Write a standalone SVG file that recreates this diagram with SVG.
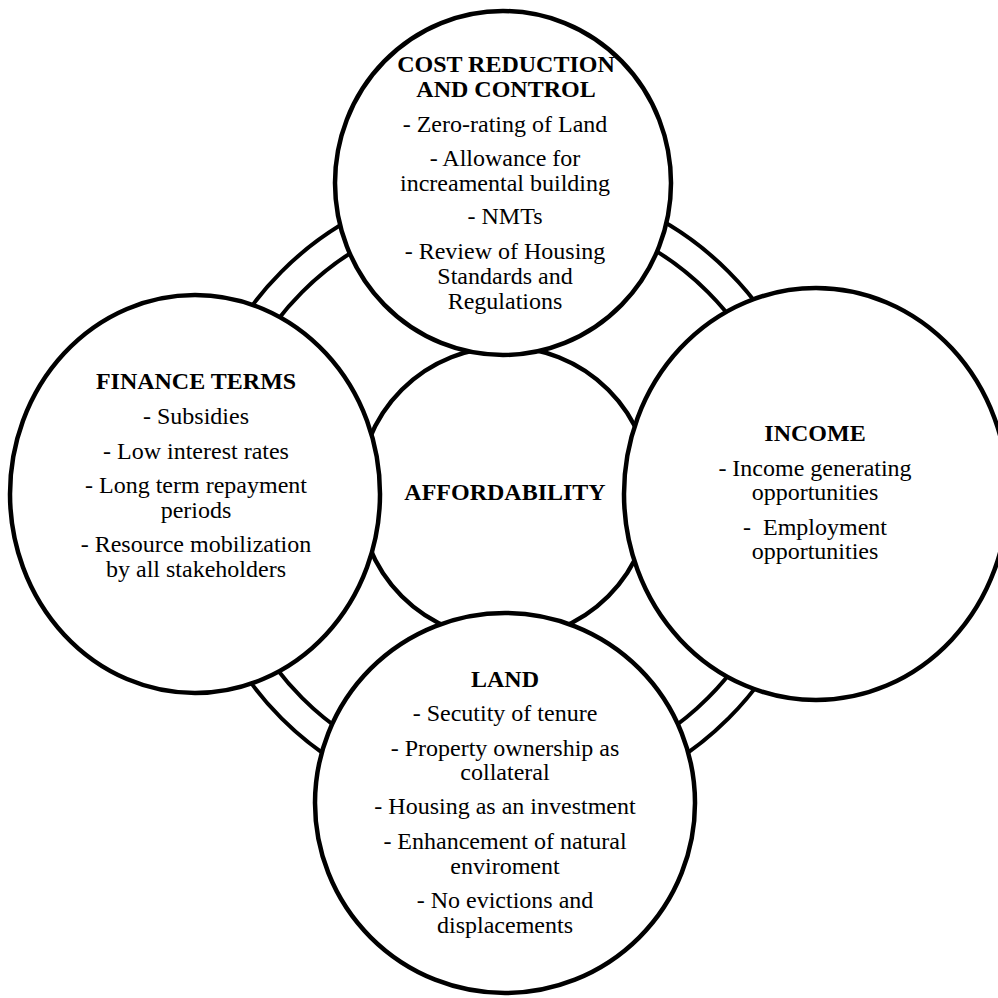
<svg xmlns="http://www.w3.org/2000/svg" width="998" height="998" viewBox="0 0 998 998">
<style>
.node { fill: #ffffff; stroke: #000000; stroke-width: 4.5; }
.ring { fill: none; stroke: #000000; stroke-width: 4; }
text { font-family: "Liberation Serif", "Times New Roman", serif; font-size: 24px; fill: #000000; text-anchor: middle; }
.title { font-weight: bold; }
</style>
<rect x="0" y="0" width="998" height="998" fill="#ffffff"/>
<g id="connectors">
  <circle class="ring" cx="505" cy="495" r="316"/>
  <circle class="ring" cx="505" cy="495" r="287"/>
</g>
<g id="affordability">
  <circle class="node" cx="505" cy="493" r="146"/>
  <text class="title" x="505" y="500">AFFORDABILITY</text>
</g>
<g id="cost-reduction">
  <ellipse class="node" cx="503" cy="183" rx="168" ry="172"/>
  <text class="title" x="506" y="72">COST REDUCTION</text>
  <text class="title" x="506" y="97">AND CONTROL</text>
  <text x="505" y="132">- Zero-rating of Land</text>
  <text x="505" y="166">- Allowance for</text>
  <text x="505" y="191">increamental building</text>
  <text x="505" y="224">- NMTs</text>
  <text x="505" y="259">- Review of Housing</text>
  <text x="505" y="284">Standards and</text>
  <text x="505" y="309">Regulations</text>
</g>
<g id="finance-terms">
  <ellipse class="node" cx="195" cy="494" rx="185" ry="199"/>
  <text class="title" x="196" y="389">FINANCE TERMS</text>
  <text x="196" y="424">- Subsidies</text>
  <text x="196" y="459">- Low interest rates</text>
  <text x="196" y="493">- Long term repayment</text>
  <text x="196" y="518">periods</text>
  <text x="196" y="552">- Resource mobilization</text>
  <text x="196" y="577">by all stakeholders</text>
</g>
<g id="income">
  <ellipse class="node" cx="816" cy="494" rx="192" ry="206"/>
  <text class="title" x="815" y="441">INCOME</text>
  <text x="815" y="476">- Income generating</text>
  <text x="815" y="500">opportunities</text>
  <text x="815" y="535" xml:space="preserve">-  Employment</text>
  <text x="815" y="559">opportunities</text>
</g>
<g id="land">
  <ellipse class="node" cx="505" cy="803" rx="190" ry="190"/>
  <text class="title" x="505" y="687">LAND</text>
  <text x="505" y="721">- Secutity of tenure</text>
  <text x="505" y="756">- Property ownership as</text>
  <text x="505" y="780">collateral</text>
  <text x="505" y="814">- Housing as an investment</text>
  <text x="505" y="849">- Enhancement of natural</text>
  <text x="505" y="874">enviroment</text>
  <text x="505" y="908">- No evictions and</text>
  <text x="505" y="933">displacements</text>
</g>
</svg>
